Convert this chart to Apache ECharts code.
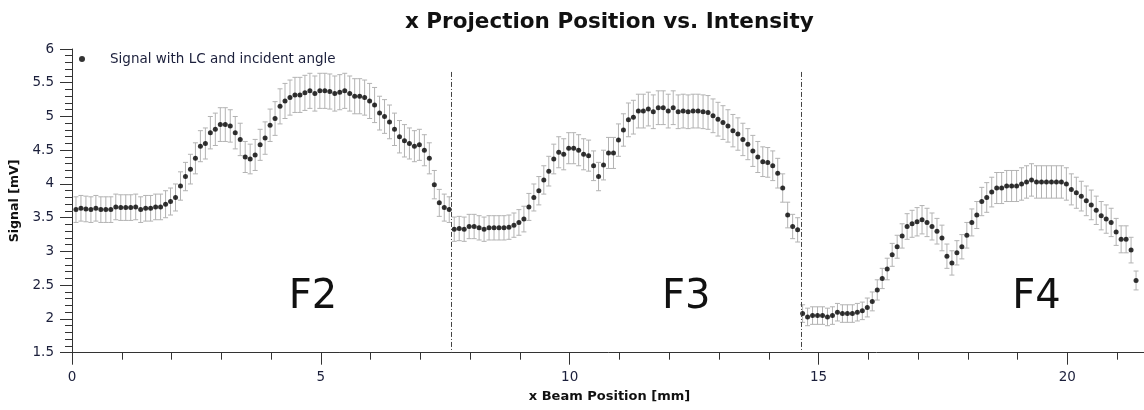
<!DOCTYPE html>
<html>
<head>
<meta charset="utf-8">
<script src="https://cdn.jsdelivr.net/npm/echarts@6/dist/echarts.min.js"></script>
<style>
  html, body { margin: 0; padding: 0; background: #fff; }
  #chart { width: 1144px; height: 410px; }
</style>
</head>
<body>
<div id="chart"></div>
<script>
// ---- Data ----
const titleText = 'x Projection Position vs. Intensity';
const seriesName = 'Signal with LC and incident angle';
const xAxisName = 'x Beam Position [mm]';
const yAxisName = 'Signal [mV]';

// beam position of each sample [mm]
const xPos = [
  0.08,0.18,0.28,0.38,0.48,0.58,0.68,0.78,0.88,0.98,
  1.08,1.18,1.28,1.38,1.48,1.58,1.68,1.78,1.88,1.98,
  2.08,2.18,2.28,2.38,2.48,2.58,2.68,2.78,2.88,2.98,
  3.08,3.18,3.28,3.38,3.48,3.58,3.68,3.78,3.88,3.98,
  4.08,4.18,4.28,4.38,4.48,4.58,4.68,4.78,4.88,4.98,
  5.08,5.18,5.28,5.38,5.48,5.58,5.68,5.78,5.88,5.98,
  6.08,6.18,6.28,6.38,6.48,6.58,6.68,6.78,6.88,6.98,
  7.08,7.18,7.28,7.38,7.48,7.58,7.68,7.78,7.88,7.98,
  8.08,8.18,8.28,8.38,8.48,8.58,8.68,8.78,8.88,8.98,
  9.08,9.18,9.28,9.38,9.48,9.58,9.68,9.78,9.88,9.98,
  10.08,10.18,10.28,10.38,10.48,10.58,10.68,10.78,10.88,10.98,
  11.08,11.18,11.28,11.38,11.48,11.58,11.68,11.78,11.88,11.98,
  12.08,12.18,12.28,12.38,12.48,12.58,12.68,12.78,12.88,12.98,
  13.08,13.18,13.28,13.38,13.48,13.58,13.68,13.78,13.88,13.98,
  14.08,14.18,14.28,14.38,14.48,14.58,14.68,14.78,14.88,14.98,
  15.08,15.18,15.28,15.38,15.48,15.58,15.68,15.78,15.88,15.98,
  16.08,16.18,16.28,16.38,16.48,16.58,16.68,16.78,16.88,16.98,
  17.08,17.18,17.28,17.38,17.48,17.58,17.68,17.78,17.88,17.98,
  18.08,18.18,18.28,18.38,18.48,18.58,18.68,18.78,18.88,18.98,
  19.08,19.18,19.28,19.38,19.48,19.58,19.68,19.78,19.88,19.98,
  20.08,20.18,20.28,20.38,20.48,20.58,20.68,20.78,20.88,20.98,
  21.08,21.18,21.28,21.38
];

// signal [mV]
const signal = [
  3.62,3.64,3.63,3.62,3.64,3.62,3.62,3.62,3.66,3.65,
  3.65,3.65,3.66,3.62,3.64,3.64,3.66,3.66,3.70,3.74,
  3.80,3.97,4.11,4.22,4.38,4.56,4.60,4.76,4.81,4.88,
  4.88,4.86,4.76,4.66,4.40,4.37,4.43,4.58,4.68,4.87,
  4.97,5.15,5.23,5.28,5.32,5.32,5.35,5.38,5.34,5.38,
  5.38,5.37,5.34,5.36,5.38,5.34,5.30,5.30,5.28,5.23,
  5.17,5.05,5.00,4.92,4.81,4.70,4.64,4.60,4.56,4.58,
  4.50,4.38,3.99,3.72,3.65,3.62,3.33,3.34,3.33,3.37,
  3.37,3.35,3.33,3.35,3.35,3.35,3.35,3.36,3.39,3.43,
  3.48,3.66,3.80,3.90,4.06,4.19,4.37,4.47,4.44,4.53,
  4.53,4.50,4.44,4.42,4.27,4.11,4.28,4.46,4.46,4.65,
  4.80,4.95,4.99,5.08,5.08,5.11,5.07,5.13,5.13,5.08,
  5.13,5.07,5.08,5.07,5.08,5.08,5.07,5.06,5.01,4.96,
  4.91,4.86,4.79,4.74,4.66,4.59,4.49,4.40,4.33,4.32,
  4.27,4.16,3.94,3.54,3.37,3.32,2.08,2.03,2.05,2.05,
  2.05,2.03,2.05,2.10,2.08,2.08,2.08,2.10,2.12,2.17,
  2.26,2.43,2.60,2.74,2.95,3.07,3.23,3.37,3.41,3.44,
  3.47,3.43,3.37,3.30,3.20,2.93,2.83,2.98,3.07,3.24,
  3.43,3.54,3.74,3.80,3.88,3.94,3.94,3.97,3.97,3.97,
  4.00,4.03,4.06,4.03,4.03,4.03,4.03,4.03,4.03,4.00,
  3.92,3.87,3.82,3.75,3.69,3.61,3.53,3.48,3.43,3.29,
  3.18,3.18,3.02,2.57
];

// error bar half-height [mV]
const signalErr = [
  0.19,0.19,0.19,0.19,0.19,0.19,0.19,0.19,0.19,0.19,
  0.19,0.19,0.19,0.19,0.19,0.19,0.19,0.19,0.20,0.20,
  0.20,0.21,0.21,0.22,0.23,0.23,0.23,0.24,0.24,0.25,
  0.25,0.24,0.24,0.24,0.23,0.22,0.23,0.23,0.24,0.24,
  0.25,0.26,0.26,0.26,0.26,0.26,0.26,0.26,0.26,0.26,
  0.26,0.26,0.26,0.26,0.26,0.26,0.26,0.26,0.26,0.26,
  0.26,0.25,0.25,0.25,0.24,0.24,0.24,0.23,0.23,0.23,
  0.23,0.23,0.21,0.20,0.20,0.19,0.18,0.18,0.18,0.18,
  0.18,0.18,0.18,0.18,0.18,0.18,0.18,0.18,0.18,0.19,
  0.19,0.20,0.20,0.21,0.21,0.22,0.22,0.23,0.23,0.23,
  0.23,0.23,0.23,0.23,0.22,0.21,0.22,0.23,0.23,0.24,
  0.24,0.25,0.25,0.25,0.25,0.25,0.25,0.25,0.25,0.25,
  0.25,0.25,0.25,0.25,0.25,0.25,0.25,0.25,0.25,0.25,
  0.25,0.24,0.24,0.24,0.24,0.23,0.23,0.23,0.22,0.22,
  0.22,0.22,0.21,0.19,0.18,0.18,0.13,0.13,0.13,0.13,
  0.13,0.13,0.13,0.13,0.13,0.13,0.13,0.13,0.13,0.14,
  0.14,0.15,0.15,0.16,0.17,0.17,0.18,0.19,0.20,0.21,
  0.21,0.21,0.20,0.19,0.19,0.18,0.18,0.18,0.18,0.19,
  0.20,0.20,0.21,0.22,0.22,0.23,0.23,0.23,0.23,0.23,
  0.24,0.24,0.24,0.24,0.24,0.24,0.24,0.24,0.24,0.24,
  0.23,0.23,0.22,0.22,0.22,0.21,0.21,0.21,0.21,0.20,
  0.20,0.20,0.19,0.14
];

// vertical dash-dot separators [mm] and the signal level where they start [mV]
const dividerX = [7.62, 14.65];
const dividerTop = 5.66;

// region annotations
const regionNames = ['F2', 'F3', 'F4'];
const regionX = [4.84, 12.34, 19.38];
const regionY = [2.31, 2.31, 2.31];

// ---- Build chart ----
const points = xPos.map((x, i) => [x, signal[i]]);
const bars = xPos.map((x, i) => [x, signal[i] - signalErr[i], signal[i] + signalErr[i]]);

const labelColor = '#1b1f3b';
const axisColor = '#333';

const chart = echarts.init(document.getElementById('chart'), null, { renderer: 'canvas' });

const xCommon = {
  type: 'value', min: 0, max: 21.6, position: 'bottom',
  splitLine: { show: false }
};

chart.setOption({
  animation: false,
  backgroundColor: '#fff',
  title: {
    text: titleText, left: 400, top: 6,
    textStyle: { fontFamily: 'DejaVu Sans', fontWeight: 'bold', fontSize: 21.5, color: '#111' }
  },
  legend: {
    data: [{ name: seriesName, icon: 'circle' }],
    left: 79, top: 52, padding: 0,
    itemWidth: 6, itemHeight: 6,
    textStyle: { fontFamily: 'DejaVu Sans', fontSize: 13.5, color: labelColor, padding: [0, 0, 0, 20] }
  },
  grid: { left: 72, right: -3, top: 49, bottom: 57.3, containLabel: false, outerBoundsMode: 'none' },
  xAxis: [
    Object.assign({}, xCommon, {
      interval: 5,
      name: xAxisName, nameLocation: 'middle', nameGap: 37,
      nameTextStyle: { fontFamily: 'DejaVu Sans', fontWeight: 'bold', fontSize: 13, color: '#111' },
      axisLine: { show: true, lineStyle: { color: axisColor, width: 1 } },
      axisTick: { show: true, length: 12, lineStyle: { color: axisColor } },
      axisLabel: { show: true, margin: 18, fontFamily: 'DejaVu Sans', fontSize: 13.5, color: labelColor, showMaxLabel: false }
    }),
    Object.assign({}, xCommon, {
      interval: 1,
      axisLine: { show: false },
      axisTick: { show: true, length: 7, lineStyle: { color: axisColor } },
      axisLabel: { show: false }
    })
  ],
  yAxis: {
    type: 'value', min: 1.5, max: 6, interval: 0.5, position: 'left',
    splitLine: { show: false },
    name: yAxisName, nameLocation: 'middle', nameGap: 43,
    nameTextStyle: { fontFamily: 'DejaVu Sans', fontWeight: 'bold', fontSize: 12.6, color: '#111' },
    axisLine: { show: true, lineStyle: { color: axisColor, width: 1 } },
    axisTick: { show: true, length: 12, lineStyle: { color: axisColor } },
    minorTick: { show: true, splitNumber: 5, length: 7, lineStyle: { color: axisColor, width: 1 } },
    axisLabel: { margin: 18, fontFamily: 'DejaVu Sans', fontSize: 13.5, color: labelColor }
  },
  series: [
    {
      type: 'custom',
      name: 'errors',
      data: bars,
      encode: { x: 0, y: [1, 2] },
      silent: true,
      z: 2,
      renderItem: function (params, api) {
        const x = api.value(0);
        const lo = api.coord([x, api.value(1)]);
        const hi = api.coord([x, api.value(2)]);
        const hw = 2.5;
        const st = { stroke: '#b3b3b3', lineWidth: 1 };
        return {
          type: 'group',
          children: [
            { type: 'line', shape: { x1: hi[0], y1: hi[1], x2: lo[0], y2: lo[1] }, style: st },
            { type: 'line', shape: { x1: hi[0] - hw, y1: hi[1], x2: hi[0] + hw, y2: hi[1] }, style: st },
            { type: 'line', shape: { x1: lo[0] - hw, y1: lo[1], x2: lo[0] + hw, y2: lo[1] }, style: st }
          ]
        };
      }
    },
    {
      type: 'scatter',
      name: seriesName,
      data: points,
      symbol: 'circle',
      symbolSize: 5,
      itemStyle: { color: '#000' },
      z: 3,
      markLine: {
        silent: true,
        symbol: ['none', 'none'],
        label: { show: false },
        lineStyle: { color: '#444', width: 1, type: [5, 2, 1, 2] },
        data: dividerX.map(v => [{ coord: [v, dividerTop] }, { coord: [v, 1.5] }])
      },
      markPoint: {
        silent: true,
        symbol: 'circle',
        symbolSize: 0,
        itemStyle: { color: 'rgba(0,0,0,0)' },
        label: {
          show: true, position: 'inside', formatter: p => p.name,
          fontFamily: 'DejaVu Sans', fontSize: 40, color: '#111'
        },
        data: regionNames.map((n, i) => ({ name: n, coord: [regionX[i], regionY[i]] }))
      }
    }
  ]
});
</script>
</body>
</html>
